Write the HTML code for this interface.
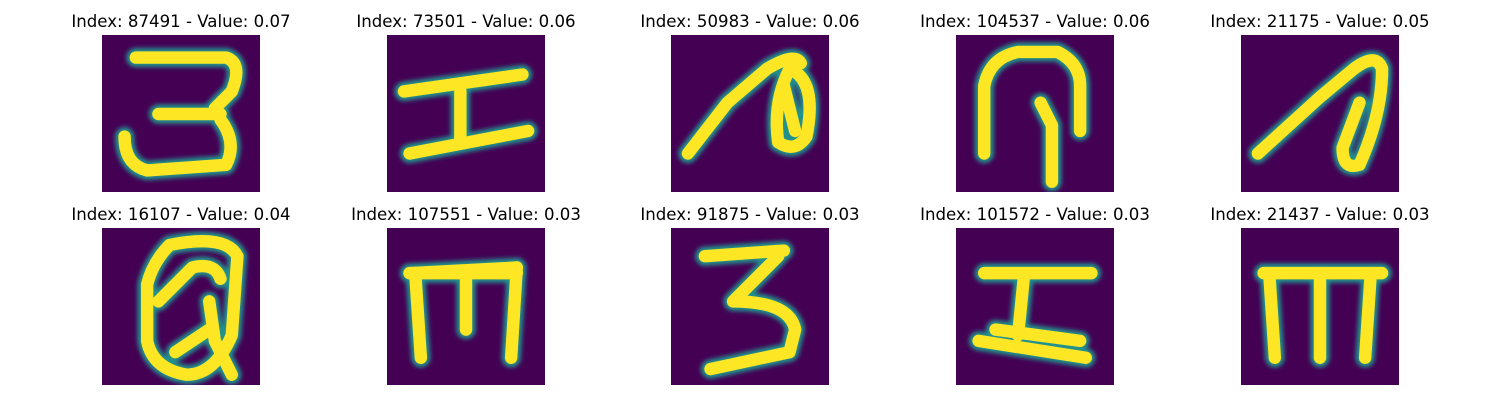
<!DOCTYPE html>
<html><head><meta charset="utf-8">
<style>
body{margin:0;background:#fff;width:1500px;height:400px;overflow:hidden;font-family:"DejaVu Sans","Liberation Sans",sans-serif;}
svg{display:block}
</style></head>
<body>
<svg id="chart" width="1500" height="400" xmlns="http://www.w3.org/2000/svg">
<defs><filter id="blur" x="-20%" y="-20%" width="140%" height="140%"><feGaussianBlur stdDeviation="2.2"/></filter></defs>
</svg>
<script>
const indices=[87491,73501,50983,104537,21175,16107,107551,91875,101572,21437];
const values=[0.07,0.06,0.06,0.06,0.05,0.04,0.03,0.03,0.03,0.03];
const strokes=[
 ["M6 4 L22 4 Q25 5 23 10 L20 13 M10 14 L21 14 M21 15 Q24 19 22 23 L8 24 Q4 23 4 18"],
 ["M3 10 L24 7","M4 21 L25 17","M13 10 L13 19"],
 ["M3 21 L10 12 L17 6 Q22 3 23 5","M21 6 Q26 8 24 18 Q22 21 19 19 Q18 12 21 6","M20 9 L22 17"],
 ["M5 21 L5 9 Q6 4 11 3 L18 3 Q22 5 22 9 L22 17","M15 12 L17 16 L17 26"],
 ["M3 21 L14 11 L20 6 Q24 3 25 6 Q25 14 21 23 Q18 24 18 20 L21 12"],
 ["M12 3 Q22 1 24 5 L23 19 Q20 26 15 26 Q9 25 8 20 L8 10 Q9 6 12 3","M10 13 L16 7 Q20 6 21 9","M19 13 L20 20 L23 26","M13 22 L19 18"],
 ["M4 8 L23 7","M5 8 L6 23","M14 8 L14 18","M23 7 L22 23","M4 8 L23 8"],
 ["M6 5 L20 4","M19 5 L11 13 Q21 13 22 18 L21 22 L7 25"],
 ["M5 8 L24 8","M12 9 L11 19","M4 20 L23 23","M7 18 L22 20"],
 ["M4 8 L25 8","M5 8 L6 23","M14 8 L14 23","M23 8 L22 23"]
];
const NS="http://www.w3.org/2000/svg";
const svg=document.getElementById('chart');
const colX=[102,387,671,956,1241], rowY=[35,228], S=158/28;
function mk(t,a){const e=document.createElementNS(NS,t);for(const k in a)e.setAttribute(k,a[k]);return e;}
for(let i=0;i<indices.length;i++){
 const x=colX[i%5], y=rowY[Math.floor(i/5)];
 const g=mk('g',{});
 
 
 const t=mk('text',{x:x+79,y:y-8,'text-anchor':'middle','font-size':'16.6',fill:'#000'});
 t.textContent='Index: '+indices[i]+' - Value: '+values[i].toFixed(2);
 
 
 g.appendChild(t);
 const bg=mk('rect',{x:x,y:y,width:158,height:157,fill:'#440154'});
 
 
 g.appendChild(bg);
 const clip=mk('clipPath',{id:'c'+i});clip.appendChild(mk('rect',{x:x,y:y,width:158,height:157}));g.appendChild(clip);
 const ig=mk('g',{'clip-path':'url(#c'+i+')'});
 const inner=mk('g',{transform:`translate(${x},${y}) scale(${S})`});
 const outer=mk('g',{filter:'url(#blur)'});
 strokes[i].forEach(d=>{
  outer.appendChild(mk('path',{d:d,fill:'none',stroke:'#21918c','stroke-width':3.4,'stroke-linecap':'round','stroke-linejoin':'round',transform:`translate(${x},${y}) scale(${S})`}));
 });
 strokes[i].forEach(d=>{
  const p=mk('path',{d:d,fill:'none',stroke:'#fde725','stroke-width':2.2,'stroke-linecap':'round','stroke-linejoin':'round'});
  
  
  inner.appendChild(p);
 });
 ig.appendChild(outer);ig.appendChild(inner);g.appendChild(ig);
 svg.appendChild(g);
}
</script>
</body></html>
